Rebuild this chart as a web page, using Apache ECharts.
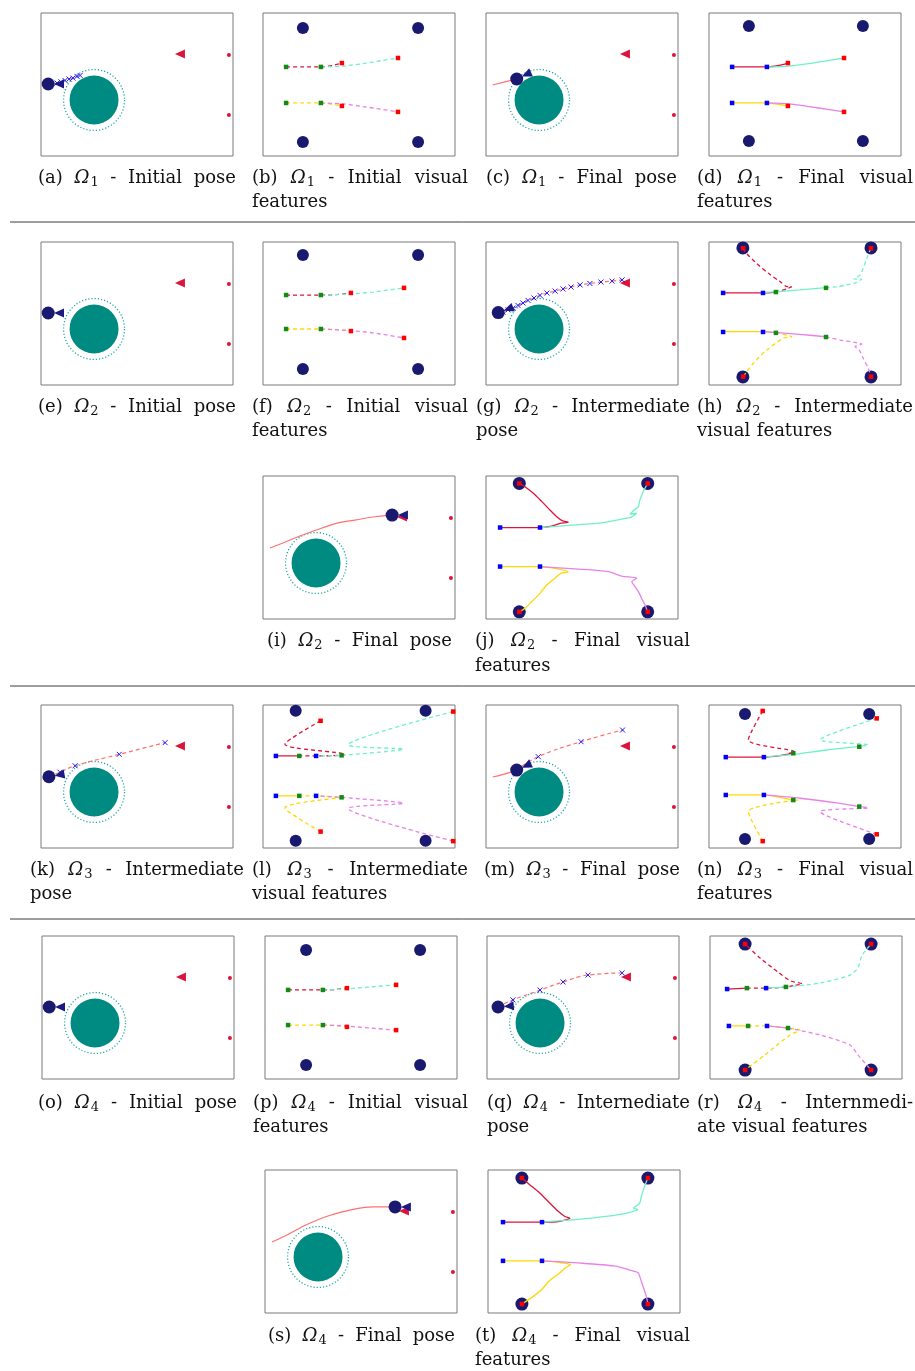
<!DOCTYPE html>
<html>
<head>
<meta charset="utf-8">
<script src="https://cdn.jsdelivr.net/npm/echarts@6/dist/echarts.min.js"></script>
<style>
  html, body { margin: 0; padding: 0; background: #fff; }
  #chart { width: 915px; height: 1371px; }
</style>
</head>
<body>
<div id="chart"></div>
<script>
// ---------- pose plots: world frame in metres (x 0..8, y 0..6) ----------
const obstacle = [[2.21, 2.35, 1.02]];
const safetyZone = [[2.21, 2.35, 1.27]];
const goalPoints = [[7.83, 4.24], [7.83, 1.72]];
const goalPose = [[5.79, 4.28]];

// robot pose: x, y, heading (deg)
const robotA = [0.30, 3.02, 0];
const planA = [[0.30, 3.02], [0.67, 3.06], [0.83, 3.11], [1.0, 3.17], [1.17, 3.23], [1.33, 3.27], [1.5, 3.34], [1.63, 3.38]];
const robotC = [1.28, 3.23, 25];
const pathC = [[0.28, 2.98], [0.79, 3.11], [1.28, 3.23]];
const robotE = [0.30, 3.02, 0];
const robotG = [0.51, 3.04, 20];
const planG = [[0.51, 3.04], [0.71, 3.06], [0.92, 3.15], [1.13, 3.23], [1.33, 3.34], [1.54, 3.44], [1.75, 3.55], [2.0, 3.65],
  [2.25, 3.76], [2.54, 3.86], [2.88, 3.94], [3.21, 4.03], [3.54, 4.11], [3.92, 4.20], [4.33, 4.26], [4.79, 4.32], [5.25, 4.36], [5.67, 4.41]];
const robotI = [5.38, 4.36, 0];
const pathI = [[0.29, 2.98], [0.83, 3.19], [1.33, 3.40], [1.88, 3.61], [2.46, 3.82], [3.13, 4.03], [3.83, 4.15], [4.58, 4.28], [5.38, 4.36]];
const robotK = [0.33, 2.99, 10];
const planK = [[0.33, 2.99], [0.79, 3.18], [1.42, 3.45], [3.26, 3.93], [5.17, 4.42]];
const robotM = [1.28, 3.27, 25];
const pathM = [[0.28, 2.98], [0.79, 3.11], [1.28, 3.27]];
const planM = [[1.28, 3.27], [2.18, 3.83], [3.96, 4.46], [5.69, 4.95]];
const robotO = [0.30, 3.02, 0];
const robotQ = [0.46, 3.02, 5];
const planQ = [[0.46, 3.02], [1.08, 3.32], [2.21, 3.73], [3.17, 4.07], [4.21, 4.36], [5.63, 4.45]];
const robotS = [5.42, 4.45, 0];
const pathS = [[0.29, 2.98], [0.83, 3.23], [1.46, 3.57], [2.08, 3.86], [2.75, 4.11], [3.54, 4.32], [4.5, 4.45], [5.42, 4.45]];

// ---------- visual features: image plane in pixels (640 x 480) ----------
const cornersB = [[133, 50], [517, 50], [133, 433], [517, 433]];
const b1 = [[77, 181], [133, 181], [193, 181], [233, 176], [263, 168]];
const b2 = [[193, 181], [267, 178], [333, 170], [400, 159], [450, 151]];
const b3 = [[77, 302], [133, 302], [193, 302], [233, 307], [263, 312]];
const b4 = [[193, 302], [267, 305], [333, 314], [400, 324], [450, 332]];
const desiredB = [[77, 181], [193, 181], [77, 302], [193, 302]];
const startB = [[263, 168], [450, 151], [263, 312], [450, 332]];
const cornersD = [[133, 44], [513, 44], [133, 430], [513, 430]];

const cornersF = [[133, 44], [517, 44], [133, 426], [517, 426]];
const f1 = [[77, 178], [193, 178], [250, 176], [293, 171]];
const f2 = [[193, 178], [283, 175], [367, 168], [470, 154]];
const f3 = [[77, 292], [193, 292], [250, 294], [293, 299]];
const f4 = [[193, 292], [283, 297], [367, 305], [470, 322]];
const desiredF = [[77, 178], [193, 178], [77, 292], [193, 292]];
const startF = [[293, 171], [470, 154], [293, 299], [470, 322]];

const cornersH = [[113, 20], [540, 20], [113, 453], [540, 453]];
const h1s = [[47, 171], [180, 171], [223, 168]];
const h2s = [[181, 170], [223, 167], [303, 161], [389, 153]];
const h3s = [[48, 301], [179, 301], [223, 304]];
const h4s = [[179, 301], [292, 309], [389, 318]];
const h1d = [[114, 21], [120, 33], [159, 72], [198, 105], [237, 133], [261, 150], [276, 150], [257, 158], [226, 167]];
const h2d = [[389, 153], [426, 150], [459, 144], [487, 137], [509, 125], [483, 124], [503, 111], [514, 88], [526, 55], [537, 27], [540, 21]];
const h3d = [[223, 304], [276, 318], [248, 323], [192, 363], [148, 407], [126, 435], [114, 452]];
const h4d = [[389, 318], [437, 329], [487, 337], [509, 343], [487, 351], [501, 363], [514, 390], [531, 424], [540, 452]];
const desiredH = [[47, 171], [180, 171], [47, 302], [180, 302]];
const currentH = [[223, 168], [390, 154], [223, 305], [390, 319]];
const startH = [[114, 21], [540, 21], [114, 452], [540, 452]];

const cornersJ = [[111, 25], [539, 25], [111, 456], [539, 456]];
const j1 = [[47, 173], [180, 173], [219, 168], [247, 159], [274, 155], [254, 150], [236, 137], [213, 114], [186, 86], [158, 58], [130, 36], [113, 25]];
const j2 = [[180, 173], [297, 164], [386, 157], [452, 145], [486, 137], [502, 125], [480, 128], [494, 114], [508, 103], [513, 81], [524, 53], [536, 30], [539, 25]];
const j3 = [[47, 304], [180, 304], [230, 310], [274, 321], [250, 327], [230, 343], [202, 366], [180, 394], [152, 422], [130, 444], [111, 456]];
const j4 = [[180, 304], [297, 312], [408, 321], [452, 336], [502, 343], [486, 355], [497, 372], [508, 388], [519, 411], [530, 433], [539, 456]];
const desiredJ = [[47, 173], [180, 173], [47, 304], [180, 304]];

const cornersL = [[109, 19], [542, 19], [109, 456], [542, 456]];
const l1s = [[43, 171], [121, 171]];
const l3s = [[43, 305], [121, 305]];
const l1d = [[192, 53], [73, 132], [273, 166], [262, 169], [177, 171], [121, 171]];
const l2d = [[634, 22], [284, 134], [468, 148], [262, 169], [177, 171]];
const l3d = [[192, 425], [73, 345], [273, 310], [262, 310], [177, 305], [121, 305]];
const l4d = [[634, 457], [284, 347], [468, 330], [262, 310], [177, 305]];
const desiredL = [[43, 171], [177, 171], [43, 305], [177, 305]];
const currentL = [[121, 171], [262, 169], [121, 305], [262, 310]];
const startL = [[192, 53], [634, 22], [192, 425], [634, 457]];

const cornersN = [[120, 30], [534, 30], [120, 450], [534, 450]];
const n1s = [[56, 175], [183, 175], [237, 170], [281, 162]];
const n2s = [[183, 175], [281, 166], [392, 151], [501, 140]];
const n3s = [[56, 302], [183, 302], [237, 310], [281, 319]];
const n4s = [[183, 302], [303, 313], [437, 330], [501, 341]];
const n1d = [[179, 20], [131, 117], [287, 158], [262, 163], [281, 162]];
const n2d = [[559, 45], [370, 117], [531, 134], [501, 140]];
const n3d = [[179, 457], [131, 358], [298, 319], [281, 319]];
const n4d = [[559, 434], [370, 358], [531, 345], [501, 341]];
const desiredN = [[56, 175], [183, 175], [56, 302], [183, 302]];
const currentN = [[281, 162], [501, 140], [281, 319], [501, 341]];
const startN = [[179, 20], [559, 45], [179, 457], [559, 434]];

const cornersP = [[137, 47], [517, 47], [137, 433], [517, 433]];
const p1 = [[77, 181], [193, 181], [233, 180], [273, 175]];
const p2 = [[193, 181], [267, 178], [350, 171], [437, 164]];
const p3 = [[77, 299], [193, 299], [233, 300], [273, 305]];
const p4 = [[193, 299], [267, 302], [350, 309], [437, 316]];
const desiredP = [[77, 181], [193, 181], [77, 299], [193, 299]];
const startP = [[273, 175], [437, 164], [273, 305], [437, 316]];

const cornersR = [[117, 27], [537, 27], [117, 450], [537, 450]];
const r1s = [[57, 178], [123, 175]];
const r2s = [[187, 175], [253, 171]];
const r3s = [[63, 302], [127, 302]];
const r4s = [[190, 302], [260, 309]];
const r1d = [[123, 175], [187, 175], [253, 171], [283, 165], [307, 161], [267, 150], [227, 121], [167, 74], [117, 27]];
const r2d = [[253, 171], [367, 158], [467, 131], [493, 107], [507, 64], [537, 27]];
const r3d = [[127, 302], [190, 302], [260, 309], [300, 316], [267, 332], [183, 399], [117, 450]];
const r4d = [[260, 309], [367, 332], [467, 366], [493, 399], [537, 450]];
const desiredR = [[57, 178], [187, 175], [63, 302], [190, 302]];
const currentR = [[123, 175], [253, 171], [127, 302], [260, 309]];

const cornersT = [[113, 27], [533, 27], [113, 450], [533, 450]];
const t1 = [[50, 175], [180, 175], [240, 172], [273, 162], [255, 155], [230, 135], [200, 105], [170, 75], [140, 50], [113, 27]];
const t2 = [[180, 175], [300, 166], [400, 155], [470, 143], [500, 132], [485, 128], [505, 112], [512, 85], [522, 55], [533, 27]];
const t3 = [[50, 305], [180, 305], [235, 310], [275, 318], [258, 328], [240, 345], [205, 372], [180, 400], [150, 425], [113, 450]];
const t4 = [[180, 305], [300, 312], [420, 322], [470, 335], [500, 345], [510, 370], [520, 400], [528, 425], [533, 450]];
const desiredT = [[50, 175], [180, 175], [50, 305], [180, 305]];

// caption lines: text, left, right (0 = not justified), middle y
const captionLines = [
  ['(a) Ω₁ - Initial pose', 38, 236, 178],
  ['(b) Ω₁ - Initial visual', 252, 468, 178], ['features', 252, 0, 202],
  ['(c) Ω₁ - Final pose', 486, 677, 178],
  ['(d) Ω₁ - Final visual', 697, 913, 178], ['features', 697, 0, 202],
  ['(e) Ω₂ - Initial pose', 38, 236, 407],
  ['(f) Ω₂ - Initial visual', 252, 468, 407], ['features', 252, 0, 431],
  ['(g) Ω₂ - Intermediate', 476, 690, 407], ['pose', 476, 0, 431],
  ['(h) Ω₂ - Intermediate', 697, 913, 407], ['visual features', 697, 0, 431],
  ['(i) Ω₂ - Final pose', 267, 452, 641],
  ['(j) Ω₂ - Final visual', 475, 690, 641], ['features', 475, 0, 666],
  ['(k) Ω₃ - Intermediate', 30, 244, 870], ['pose', 30, 0, 894],
  ['(l) Ω₃ - Intermediate', 252, 468, 870], ['visual features', 252, 0, 894],
  ['(m) Ω₃ - Final pose', 484, 680, 870],
  ['(n) Ω₃ - Final visual', 697, 913, 870], ['features', 697, 0, 894],
  ['(o) Ω₄ - Initial pose', 38, 237, 1103],
  ['(p) Ω₄ - Initial visual', 253, 468, 1103], ['features', 253, 0, 1127],
  ['(q) Ω₄ - Internediate', 487, 690, 1103], ['pose', 487, 0, 1127],
  ['(r) Ω₄ - Internmedi-', 697, 913, 1103], ['ate visual features', 697, 0, 1127],
  ['(s) Ω₄ - Final pose', 268, 455, 1336],
  ['(t) Ω₄ - Final visual', 475, 690, 1336], ['features', 475, 0, 1360],
];

const FONT = 'DejaVu Serif';
const FS = 18;
const SUB = 13;
const navy = '#191970';
const featColors = ['#dc143c', '#6ff0c8', '#ffd700', '#e882e8'];
const RED = '#ff0000', GREEN = '#138a13', BLUE = '#0000ff';

const posePanels = [
  { box: [41, 13], robot: robotA, plan: planA },
  { box: [486, 13], robot: robotC, path: pathC },
  { box: [41, 242], robot: robotE },
  { box: [486, 242], robot: robotG, plan: planG },
  { box: [263, 476], robot: robotI, path: pathI },
  { box: [41, 705], robot: robotK, plan: planK },
  { box: [486, 705], robot: robotM, path: pathM, plan: planM },
  { box: [42, 936], robot: robotO },
  { box: [487, 936], robot: robotQ, plan: planQ },
  { box: [265, 1170], robot: robotS, path: pathS },
];

const featPanels = [
  { box: [263, 13], corners: cornersB, dashed: [b1, b2, b3, b4], marks: [[desiredB, GREEN], [startB, RED]] },
  { box: [709, 13], corners: cornersD, solid: [b1, b2, b3, b4], marks: [[desiredB, BLUE], [startB, RED]] },
  { box: [263, 242], corners: cornersF, dashed: [f1, f2, f3, f4], marks: [[desiredF, GREEN], [startF, RED]] },
  { box: [709, 242], corners: cornersH, big: true, solid: [h1s, h2s, h3s, h4s], dashed: [h1d, h2d, h3d, h4d],
    marks: [[desiredH, BLUE], [currentH, GREEN], [startH, RED]] },
  { box: [486, 476], corners: cornersJ, big: true, solid: [j1, j2, j3, j4], marks: [[desiredJ, BLUE], [cornersJ, RED]] },
  { box: [263, 705], corners: cornersL, solid: [l1s, null, l3s, null], dashed: [l1d, l2d, l3d, l4d],
    marks: [[desiredL, BLUE], [currentL, GREEN], [startL, RED]] },
  { box: [709, 705], corners: cornersN, solid: [n1s, n2s, n3s, n4s], dashed: [n1d, n2d, n3d, n4d],
    marks: [[desiredN, BLUE], [currentN, GREEN], [startN, RED]] },
  { box: [265, 936], corners: cornersP, dashed: [p1, p2, p3, p4], marks: [[desiredP, GREEN], [startP, RED]] },
  { box: [710, 936], corners: cornersR, big: true, solid: [r1s, r2s, r3s, r4s], dashed: [r1d, r2d, r3d, r4d],
    marks: [[desiredR, BLUE], [currentR, GREEN], [cornersR, RED]] },
  { box: [488, 1170], corners: cornersT, big: true, solid: [t1, t2, t3, t4], marks: [[desiredT, BLUE], [cornersT, RED]] },
];

const grids = [], xAxes = [], yAxes = [], series = [];

function addGrid(box, xmax, ymax, inverse) {
  const i = grids.length;
  grids.push({
    left: box[0], top: box[1], width: 192, height: 143,
    show: true, borderColor: '#7a7a7a', borderWidth: 1, backgroundColor: '#fff',
  });
  xAxes.push({ gridIndex: i, type: 'value', min: 0, max: xmax, show: false });
  yAxes.push({ gridIndex: i, type: 'value', min: 0, max: ymax, inverse: inverse, show: false });
  return i;
}

function circleItem(fill, stroke, dash) {
  return function (params, api) {
    const c = api.coord([api.value(0), api.value(1)]);
    const r = api.size([api.value(2), 0])[0];
    return {
      type: 'circle',
      shape: { cx: c[0], cy: c[1], r: r },
      style: { fill: fill, stroke: stroke, lineWidth: 1.3, lineDash: dash },
    };
  };
}

function dot(color) {
  return { color: color, opacity: 1 };
}

posePanels.forEach(function (p) {
  const g = addGrid(p.box, 8, 6, false);
  const ax = { xAxisIndex: g, yAxisIndex: g, silent: true, animation: false };
  series.push(Object.assign({ type: 'custom', renderItem: circleItem('#008b82', null, null), data: obstacle, z: 1 }, ax));
  series.push(Object.assign({ type: 'custom', renderItem: circleItem('none', '#1fa9a5', [1.2, 2]), data: safetyZone, z: 1 }, ax));
  series.push(Object.assign({ type: 'scatter', data: goalPoints, symbolSize: 4, itemStyle: dot('#dc143c'), z: 2 }, ax));
  series.push(Object.assign({ type: 'scatter', data: goalPose, symbol: 'triangle', symbolSize: [9, 10], symbolRotate: 90,
    itemStyle: dot('#dc143c'), z: 2 }, ax));
  if (p.path) {
    series.push(Object.assign({ type: 'line', data: p.path, showSymbol: false, smooth: true,
      lineStyle: { color: '#ff7070', width: 1.2 }, z: 3 }, ax));
  }
  if (p.plan) {
    series.push(Object.assign({ type: 'line', data: p.plan, showSymbol: false, smooth: true,
      lineStyle: { color: '#ff7070', width: 1.2, type: [4, 3] }, z: 3 }, ax));
    series.push(Object.assign({ type: 'scatter', data: p.plan.slice(1), symbol: 'path://M0,0L10,10M10,0L0,10', symbolSize: 5,
      itemStyle: { color: 'rgba(0,0,0,0)', borderColor: '#1a1aff', borderWidth: 1, opacity: 1 }, z: 4 }, ax));
  }
  const h = p.robot[2] * Math.PI / 180;
  const cam = [p.robot[0] + 0.45 * Math.cos(h), p.robot[1] + 0.45 * Math.sin(h)];
  series.push(Object.assign({ type: 'scatter', data: [p.robot.slice(0, 2)], symbolSize: 13,
    itemStyle: dot(navy), z: 5 }, ax));
  series.push(Object.assign({ type: 'scatter', data: [cam], symbol: 'triangle', symbolSize: [9, 10], symbolRotate: 90 + p.robot[2],
    itemStyle: dot('#1a1a80'), z: 5 }, ax));
});

featPanels.forEach(function (p) {
  const g = addGrid(p.box, 640, 480, true);
  const ax = { xAxisIndex: g, yAxisIndex: g, silent: true, animation: false };
  series.push(Object.assign({ type: 'scatter', data: p.corners, symbolSize: p.big ? 13 : 12,
    itemStyle: dot(navy), z: 1 }, ax));
  [['dashed', [4, 3]], ['solid', 'solid']].forEach(function (kind) {
    const lines = p[kind[0]];
    if (!lines) return;
    lines.forEach(function (pts, k) {
      if (!pts) return;
      series.push(Object.assign({ type: 'line', data: pts, showSymbol: false, smooth: 0.25,
        lineStyle: { color: featColors[k], width: 1.3, type: kind[1] }, z: 2 }, ax));
    });
  });
  p.marks.forEach(function (m) {
    series.push(Object.assign({ type: 'scatter', data: m[0], symbol: 'rect', symbolSize: 4.5,
      itemStyle: dot(m[1]), z: 3 }, ax));
  });
});

// captions, laid out word by word so the lines can be justified like the original
const ctx = document.createElement('canvas').getContext('2d');
function textWidth(s, size, italic) {
  ctx.font = (italic ? 'italic ' : '') + size + 'px "' + FONT + '"';
  return ctx.measureText(s).width;
}
// subscript digit drawn as a small lowered ordinary digit
function subDigit(w) {
  return String.fromCharCode(w.charCodeAt(1) - 0x2080 + 48);
}
function wordWidth(w) {
  if (w[0] === 'Ω') return textWidth('Ω', FS, true) + textWidth(subDigit(w), SUB, false) + 1;
  return textWidth(w, FS, false);
}
const graphics = [];
captionLines.forEach(function (c) {
  const words = c[0].split(' ');
  const widths = words.map(wordWidth);
  const total = widths.reduce(function (a, b) { return a + b; }, 0);
  let gap = textWidth(' ', FS, false) * 1.15;
  if (c[2] && words.length > 1) gap = (c[2] - c[1] - total) / (words.length - 1);
  let x = c[1];
  words.forEach(function (w, k) {
    graphics.push({
      type: 'text', x: x, y: c[3], silent: true,
      style: {
        text: w[0] === 'Ω' ? '{o|Ω}{s|' + subDigit(w) + '}' : w,
        rich: {
          o: { fontStyle: 'italic', fontFamily: FONT, fontSize: FS, fill: '#111' },
          s: { fontFamily: FONT, fontSize: SUB, fill: '#111', padding: [9, 0, 0, 1] },
        },
        fontFamily: FONT, fontSize: FS, fill: '#111', verticalAlign: 'middle', align: 'left',
      },
    });
    x += widths[k] + gap;
  });
});
[222, 686, 919].forEach(function (y) {
  graphics.push({ type: 'line', silent: true, shape: { x1: 10, y1: y, x2: 915, y2: y },
    style: { stroke: '#3c3c3c', lineWidth: 1 } });
});

const myChart = echarts.init(document.getElementById('chart'), null, { renderer: 'canvas' });
myChart.setOption({
  animation: false,
  backgroundColor: '#fff',
  grid: grids,
  xAxis: xAxes,
  yAxis: yAxes,
  series: series,
  graphic: graphics,
});
</script>
</body>
</html>
